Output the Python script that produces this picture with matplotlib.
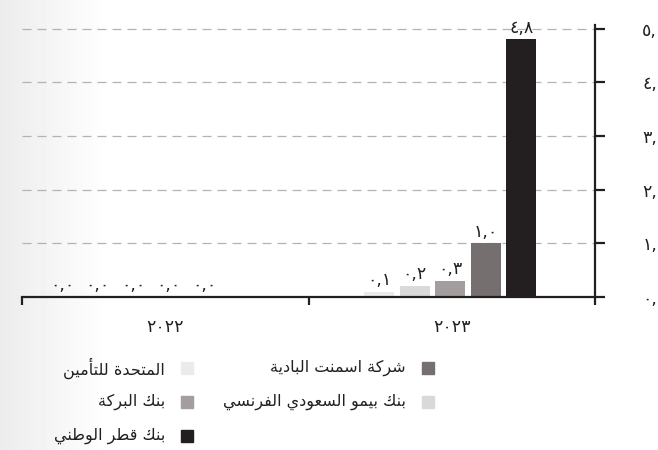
import numpy as np
import matplotlib
matplotlib.use("Agg")
import matplotlib.pyplot as plt
from matplotlib.patches import Rectangle

# data
companies = ["المتحدة للتأمين", "بنك بيمو السعودي الفرنسي", "بنك البركة",
             "شركة اسمنت البادية", "بنك قطر الوطني"]
years = ["٢٠٢٢", "٢٠٢٣"]
values_2022 = [0.0, 0.0, 0.0, 0.0, 0.0]
values_2023 = [0.1, 0.2, 0.3, 1.0, 4.8]
colors = ["#ebebeb", "#d9d9d9", "#a39e9d", "#766f6f", "#231f20"]
yticks = [0, 1, 2, 3, 4, 5]

# matplotlib has no arabic shaping -> map letters to presentation forms and reverse
FORMS = {
    'ا': ('\uFE8D', '\uFE8E', None, None),
    'أ': ('\uFE83', '\uFE84', None, None),
    'ب': ('\uFE8F', '\uFE90', '\uFE91', '\uFE92'),
    'ة': ('\uFE93', '\uFE94', None, None),
    'ت': ('\uFE95', '\uFE96', '\uFE97', '\uFE98'),
    'ح': ('\uFEA1', '\uFEA2', '\uFEA3', '\uFEA4'),
    'د': ('\uFEA9', '\uFEAA', None, None),
    'ر': ('\uFEAD', '\uFEAE', None, None),
    'س': ('\uFEB1', '\uFEB2', '\uFEB3', '\uFEB4'),
    'ش': ('\uFEB5', '\uFEB6', '\uFEB7', '\uFEB8'),
    'ط': ('\uFEC1', '\uFEC2', '\uFEC3', '\uFEC4'),
    'ع': ('\uFEC9', '\uFECA', '\uFECB', '\uFECC'),
    'ف': ('\uFED1', '\uFED2', '\uFED3', '\uFED4'),
    'ق': ('\uFED5', '\uFED6', '\uFED7', '\uFED8'),
    'ك': ('\uFED9', '\uFEDA', '\uFEDB', '\uFEDC'),
    'ل': ('\uFEDD', '\uFEDE', '\uFEDF', '\uFEE0'),
    'م': ('\uFEE1', '\uFEE2', '\uFEE3', '\uFEE4'),
    'ن': ('\uFEE5', '\uFEE6', '\uFEE7', '\uFEE8'),
    'و': ('\uFEED', '\uFEEE', None, None),
    'ي': ('\uFEF1', '\uFEF2', '\uFEF3', '\uFEF4'),
}
LAM_ALEF = {'ا': ('\uFEFB', '\uFEFC'), 'أ': ('\uFEF7', '\uFEF8')}


def shape(text):
    toks = []
    i = 0
    while i < len(text):
        if text[i] == 'ل' and i + 1 < len(text) and text[i + 1] in LAM_ALEF:
            toks.append(('LA', text[i + 1]))
            i += 2
        else:
            toks.append((text[i], None))
            i += 1

    def is_ar(t):
        return t[0] == 'LA' or t[0] in FORMS

    def dual(t):
        return t[0] in FORMS and FORMS[t[0]][2] is not None

    out = []
    for j, t in enumerate(toks):
        prev_j = j > 0 and dual(toks[j - 1]) and is_ar(t)
        next_j = dual(t) and j + 1 < len(toks) and is_ar(toks[j + 1])
        if t[0] == 'LA':
            out.append(LAM_ALEF[t[1]][1 if prev_j else 0])
        elif t[0] in FORMS:
            iso, fin, ini, med = FORMS[t[0]]
            if prev_j and next_j:
                out.append(med)
            elif prev_j:
                out.append(fin)
            elif next_j:
                out.append(ini)
            else:
                out.append(iso)
        else:
            out.append(t[0])
    return ''.join(reversed(out))


AR_DIGITS = str.maketrans("0123456789", "٠١٢٣٤٥٦٧٨٩")


def fmt(v):
    return f"{v:.1f}".replace(".", ",").translate(AR_DIGITS)


plt.rcParams['font.family'] = ['DejaVu Sans']
plt.rcParams['lines.scale_dashes'] = False
dark = "#231f20"
numsize = 12.5

W, H = 658, 450
fig = plt.figure(figsize=(W / 100, H / 100), dpi=100)

# soft grey fade on the left edge
bg = fig.add_axes([0, 0, 1, 1], zorder=0)
xs = np.arange(W)
shade = 1 - 0.075 * np.clip(1 - xs / 110, 0, 1)
grad = np.tile(shade, (10, 1))
bg.imshow(grad, cmap="gray", vmin=0, vmax=1, aspect="auto", extent=[0, 1, 0, 1])
bg.axis("off")

ax = fig.add_axes([22 / W, 153 / H, (595 - 22) / W, 272 / H], zorder=1)
ax.set_facecolor("none")

step, width = 0.124, 0.105
group_shift = [-0.112, -0.005]
for g, vals in enumerate([values_2022, values_2023]):
    xpos = [g + group_shift[g] + (i - 2) * step for i in range(len(vals))]
    bars = ax.bar(xpos, vals, width, color=colors, zorder=2)
    ax.bar_label(bars, labels=[fmt(v) for v in vals], padding=2,
                 fontsize=numsize, color=dark)

ax.set_xlim(-0.5, 1.5)
ax.set_ylim(0, 5.07)

ax.yaxis.tick_right()
ax.set_yticks(yticks)
ax.set_yticklabels([str(t).translate(AR_DIGITS) + "," for t in yticks])
ax.tick_params(axis="y", direction="out", length=7, width=1.6, pad=27,
               labelsize=numsize, colors=dark)
ax.yaxis.grid(True, color="#b3b3b3", linewidth=0.9, linestyle=(0, (6.5, 4.3)), zorder=0)

ax.set_xticks([-0.5, 0.5, 1.5])
ax.set_xticklabels([])
ax.set_xticks([0, 1], minor=True)
ax.set_xticklabels(years, minor=True)
ax.tick_params(axis="x", which="major", direction="out", length=6, width=1.6, colors=dark)
ax.tick_params(axis="x", which="minor", length=0, pad=15, labelsize=numsize, labelcolor=dark)

for s in ["top", "left"]:
    ax.spines[s].set_visible(False)
for s in ["bottom", "right"]:
    ax.spines[s].set_color(dark)
    ax.spines[s].set_linewidth(1.6)
ax.spines["bottom"].set_zorder(3)

# legend, right to left
legend_slots = [(187, 368), (428, 402), (187, 402), (428, 368), (187, 436)]
sq = 12
for name, col, (cx, cy) in zip(companies, colors, legend_slots):
    fig.add_artist(Rectangle(((cx - sq / 2) / W, 1 - (cy + sq / 2) / H), sq / W, sq / H,
                             transform=fig.transFigure, color=col, zorder=3))
    fig.text((cx - sq / 2 - 16) / W, 1 - cy / H, shape(name), ha="right", va="center",
             fontsize=11.5, color=dark, zorder=3)

fig.savefig("out.png", dpi=100)
